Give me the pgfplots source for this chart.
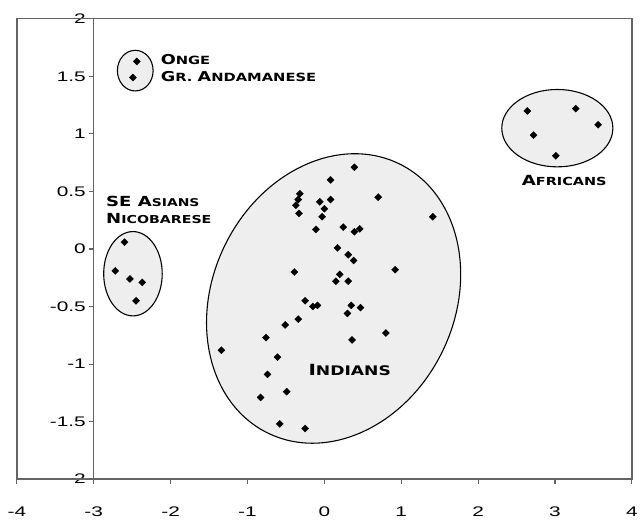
\documentclass[border=0pt]{standalone}
\usepackage{graphicx}
\usepackage{pgfplots}
\pgfplotsset{compat=1.18}
\usepackage{fontspec}
\setmainfont{Liberation Sans}[FakeStretch=1.5]
\newfontfamily\labfont{DejaVu Sans}
\definecolor{ellfill}{RGB}{238,238,238}
\definecolor{framegray}{RGB}{100,100,100}
\newcommand{\bigc}[2]{{\fontsize{#1}{#1}\selectfont #2}}
\newcommand{\lab}[1]{\scalebox{1.3}[1]{\labfont\bfseries #1}}
\begin{document}
\begin{tikzpicture}
\begin{axis}[
  scale only axis, width=620pt, height=464pt,
  xmin=-4, xmax=4, ymin=-2, ymax=2,
  clip=false,
  xtick={-4,-3,...,4}, ytick={-2,-1.5,...,2},
  xtick pos=left, ytick pos=left,
  major tick length=0pt,
  axis line style={draw=none},
  xticklabel style={font=\fontsize{14}{14}\selectfont, yshift=-24pt},
  yticklabel style={font=\fontsize{14}{14}\selectfont, xshift=73pt},
  /pgf/number format/assume math mode=true,
]
% ellipses
\draw[fill=ellfill, line width=1.1pt] (axis cs:-2.46,1.55) ellipse [x radius=18pt, y radius=20.5pt];
\draw[fill=ellfill, line width=1.1pt] (axis cs:-2.49,-0.215) ellipse [x radius=29.5pt, y radius=42.5pt];
\draw[fill=ellfill, line width=1.1pt] (axis cs:3.03,1.05) ellipse [x radius=56pt, y radius=39pt];
\draw[fill=ellfill, line width=1.1pt, rotate around={64:(axis cs:0.12,-0.43)}] (axis cs:0.12,-0.43) ellipse [x radius=151pt, y radius=122pt];
% frame, vertical axis and ticks
\draw[framegray, line width=1.3pt] (rel axis cs:0,0) rectangle (rel axis cs:1,1);
\draw[framegray, line width=1.3pt] (axis cs:-3,-2) -- (axis cs:-3,2);
\draw[framegray, line width=1.1pt] (axis cs:-4,-2) -- ++(0pt,-5pt);
\draw[framegray, line width=1.1pt] (axis cs:-3,-2) -- ++(0pt,-5pt);
\draw[framegray, line width=1.1pt] (axis cs:-2,-2) -- ++(0pt,-5pt);
\draw[framegray, line width=1.1pt] (axis cs:-1,-2) -- ++(0pt,-5pt);
\draw[framegray, line width=1.1pt] (axis cs:0,-2) -- ++(0pt,-5pt);
\draw[framegray, line width=1.1pt] (axis cs:1,-2) -- ++(0pt,-5pt);
\draw[framegray, line width=1.1pt] (axis cs:2,-2) -- ++(0pt,-5pt);
\draw[framegray, line width=1.1pt] (axis cs:3,-2) -- ++(0pt,-5pt);
\draw[framegray, line width=1.1pt] (axis cs:4,-2) -- ++(0pt,-5pt);
\draw[framegray, line width=1.1pt] (axis cs:-3,-2) -- ++(-5pt,0pt);
\draw[framegray, line width=1.1pt] (axis cs:-3,-1.5) -- ++(-5pt,0pt);
\draw[framegray, line width=1.1pt] (axis cs:-3,-1) -- ++(-5pt,0pt);
\draw[framegray, line width=1.1pt] (axis cs:-3,-0.5) -- ++(-5pt,0pt);
\draw[framegray, line width=1.1pt] (axis cs:-3,0) -- ++(-5pt,0pt);
\draw[framegray, line width=1.1pt] (axis cs:-3,0.5) -- ++(-5pt,0pt);
\draw[framegray, line width=1.1pt] (axis cs:-3,1) -- ++(-5pt,0pt);
\draw[framegray, line width=1.1pt] (axis cs:-3,1.5) -- ++(-5pt,0pt);
\draw[framegray, line width=1.1pt] (axis cs:-3,2) -- ++(-5pt,0pt);
% data
\addplot[only marks, mark=square*, mark size=2.5pt, mark options={rotate=45, fill=black, draw=black}] coordinates {
(0.39,0.71) (0.08,0.60) (-0.32,0.48) (-0.34,0.43) (-0.37,0.38) (-0.33,0.31)
(-0.06,0.41) (0.08,0.43) (0.00,0.35) (-0.03,0.28) (0.70,0.45) (1.41,0.28)
(-0.11,0.17) (0.245,0.19) (0.39,0.15) (0.46,0.175) (0.17,0.01) (0.31,-0.05)
(0.38,-0.10) (-0.39,-0.20) (0.92,-0.18) (0.20,-0.22) (0.15,-0.28) (0.31,-0.28)
(-0.25,-0.45) (-0.15,-0.50) (-0.09,-0.49) (0.35,-0.49) (0.47,-0.51) (0.30,-0.56)
(-0.34,-0.61) (-0.51,-0.66) (0.80,-0.73) (0.36,-0.79) (-0.76,-0.77) (-1.34,-0.88)
(-0.61,-0.94) (-0.74,-1.09) (-0.49,-1.24) (-0.83,-1.29) (-0.58,-1.52) (-0.25,-1.56)
};
\addplot[only marks, mark=square*, mark size=2.5pt, mark options={rotate=45, fill=black, draw=black}] coordinates {
(-2.60,0.06) (-2.72,-0.19) (-2.53,-0.26) (-2.37,-0.29) (-2.45,-0.45)
};
\addplot[only marks, mark=square*, mark size=2.5pt, mark options={rotate=45, fill=black, draw=black}] coordinates {
(-2.44,1.63) (-2.49,1.49)
};
\addplot[only marks, mark=square*, mark size=2.5pt, mark options={rotate=45, fill=black, draw=black}] coordinates {
(2.64,1.20) (3.27,1.22) (3.56,1.08) (2.72,0.99) (3.01,0.81)
};
% labels
\node[anchor=base west, inner sep=0] at (axis cs:-2.13,1.60) {\lab{\bigc{13.7}{O}\bigc{11.4}{NGE}}};
\node[anchor=base west, inner sep=0] at (axis cs:-2.13,1.457) {\lab{\bigc{13.7}{G}\bigc{11.4}{R. }\bigc{13.7}{A}\bigc{11.4}{NDAMANESE}}};
\node[anchor=base west, inner sep=0] at (axis cs:-2.84,0.365) {\lab{\bigc{14}{SE A}\bigc{10.8}{SIANS}}};
\node[anchor=base west, inner sep=0] at (axis cs:-2.84,0.222) {\lab{\bigc{14}{N}\bigc{11}{ICOBARESE}}};
\node[anchor=base, inner sep=0] at (axis cs:0.33,-1.103) {\lab{\bigc{15.5}{I}\bigc{13.3}{NDIANS}}};
\node[anchor=base, inner sep=0] at (axis cs:3.12,0.549) {\lab{\bigc{14.1}{A}\bigc{11.2}{FRICANS}}};
\coordinate (sw) at (rel axis cs:0,0);
\coordinate (ne) at (rel axis cs:1,1);
\end{axis}
\path (sw) ++(-17pt,-31pt) coordinate (bl);
\path (ne) ++(4pt,19pt) coordinate (tr);
\path (bl) rectangle (tr);
\end{tikzpicture}
\end{document}
